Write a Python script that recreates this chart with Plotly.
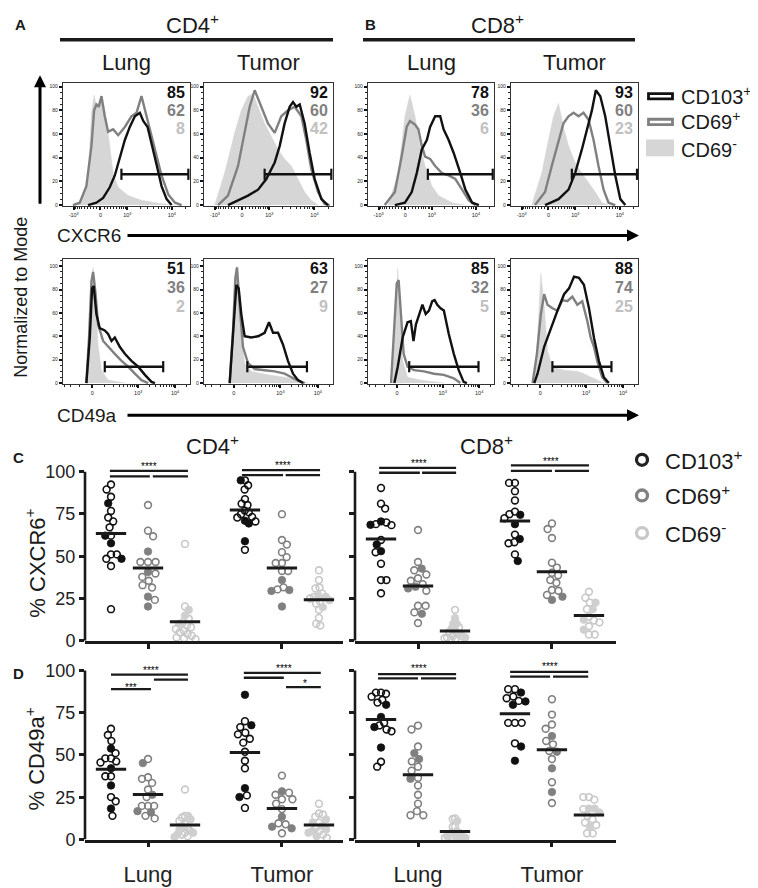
import math
import plotly.graph_objects as go

W, H = 758, 888
FONT = "Liberation Sans, Arial, Helvetica, sans-serif"
INK = "#1a1a1a"
C_CD103 = "#111111"
C_CD69P = "#808080"
C_CD69N = "#c8c8c8"
C_FILL = "#d6d6d6"

# ============================ DATA ============================
# Histograms: x = position across the plot (0-100 of the biexponential display),
# y = % of mode.  neg = CD69-, pos = CD69+, cd103 = CD103+
hist_cd4_lung_cxcr6_neg_x = [9.2, 14.5, 19.7, 22.4, 24.5, 26.3, 28.9, 31.6, 34.2, 36.8, 39.5, 43.4, 51.3, 61.8, 75.0, 88.0]
hist_cd4_lung_cxcr6_neg_y = [0, 2, 22, 78, 93, 83, 89, 86, 72, 50, 27, 15, 8, 4, 1.5, 0]
hist_cd4_lung_cxcr6_pos_x = [7.9, 13.2, 18.4, 22.4, 24.5, 26.3, 28.2, 30.3, 32.9, 35.5, 39.5, 43.4, 48.7, 53.9, 57.9, 61.8, 65.8, 69.7, 73.7, 77.6, 82.9, 88.2, 93.4]
hist_cd4_lung_cxcr6_pos_y = [0, 2, 16, 50, 80, 85, 83, 92, 75, 62, 64, 59, 66, 75, 78, 92, 75, 58, 41, 25, 9, 2, 0]
hist_cd4_lung_cxcr6_cd103_x = [19.7, 26.3, 31.6, 36.8, 40.8, 44.7, 48.7, 52.6, 56.6, 60.5, 63.2, 66.6, 69.7, 73.7, 77.6, 81.6, 85.5]
hist_cd4_lung_cxcr6_cd103_y = [0, 2, 6, 15, 25, 40, 55, 66, 75, 78, 71, 66, 53, 34, 16, 5, 0]

hist_cd4_tumor_cxcr6_neg_x = [8.3, 16.0, 23.8, 28.9, 34.1, 38.0, 41.9, 47.0, 52.2, 57.4, 62.5, 67.7, 72.9, 78.0, 83.2, 88.4]
hist_cd4_tumor_cxcr6_neg_y = [0, 27, 61, 80, 92, 94, 83, 69, 58, 47, 39, 33, 22, 11, 4, 0]
hist_cd4_tumor_cxcr6_pos_x = [10.9, 18.6, 26.4, 31.5, 35.4, 39.3, 44.4, 49.6, 54.8, 59.9, 65.1, 70.3, 75.5, 79.3, 83.2, 88.4, 93.5, 97.4]
hist_cd4_tumor_cxcr6_pos_y = [0, 8, 33, 61, 83, 97, 83, 69, 61, 75, 80, 83, 75, 55, 30, 11, 1, 0]
hist_cd4_tumor_cxcr6_cd103_x = [18.6, 26.4, 34.1, 41.9, 48.3, 54.8, 58.7, 62.5, 66.4, 69.0, 71.6, 74.2, 78.0, 81.9, 85.8, 91.0, 96.1]
hist_cd4_tumor_cxcr6_cd103_y = [0, 4, 8, 13, 22, 36, 50, 69, 83, 87, 83, 85, 69, 44, 22, 5, 0]

hist_cd8_lung_cxcr6_neg_x = [16.0, 24.0, 29.3, 33.3, 37.3, 41.3, 45.3, 50.7, 56.0, 66.7, 77.3]
hist_cd8_lung_cxcr6_neg_y = [0, 27, 75, 93, 75, 50, 33, 16, 8, 2, 0]
hist_cd8_lung_cxcr6_pos_x = [13.3, 21.3, 26.7, 30.7, 33.3, 37.3, 40.0, 42.7, 45.3, 49.3, 53.3, 58.7, 64.0, 69.3, 74.7, 80.0, 85.3]
hist_cd8_lung_cxcr6_pos_y = [0, 11, 41, 66, 71, 68, 64, 50, 41, 39, 33, 27, 25, 22, 13, 4, 0]
hist_cd8_lung_cxcr6_cd103_x = [21.3, 29.3, 34.7, 38.7, 42.7, 46.7, 49.3, 53.3, 57.3, 60.0, 64.0, 68.0, 73.3, 77.3, 82.7, 88.0]
hist_cd8_lung_cxcr6_cd103_y = [0, 2, 11, 27, 47, 55, 66, 75, 75, 64, 55, 44, 27, 13, 2, 0]

hist_cd8_tumor_cxcr6_neg_x = [16.3, 24.2, 29.5, 33.4, 37.4, 41.3, 45.3, 50.5, 55.8, 61.1, 66.3, 71.6, 76.8]
hist_cd8_tumor_cxcr6_neg_y = [0, 27, 55, 75, 86, 66, 50, 36, 27, 19, 11, 2, 0]
hist_cd8_tumor_cxcr6_pos_x = [18.9, 26.8, 32.1, 37.4, 41.3, 45.3, 49.2, 53.2, 57.1, 61.1, 65.0, 68.9, 72.9, 76.8, 82.1]
hist_cd8_tumor_cxcr6_pos_y = [0, 11, 33, 55, 69, 75, 78, 75, 78, 72, 55, 33, 13, 2, 0]
hist_cd8_tumor_cxcr6_cd103_x = [26.8, 37.4, 45.3, 50.5, 55.8, 59.7, 63.7, 66.8, 70.3, 74.2, 78.2, 82.1, 86.1, 90.0]
hist_cd8_tumor_cxcr6_cd103_y = [0, 5, 13, 27, 47, 64, 80, 97, 92, 75, 50, 25, 5, 0]

hist_cd4_lung_cd49a_neg_x = [18.4, 19.7, 21.8, 23.7, 25.5, 27.6, 30.3, 35.5, 48.7]
hist_cd4_lung_cd49a_neg_y = [0, 25, 81, 99, 73, 33, 11, 2.5, 0]
hist_cd4_lung_cd49a_pos_x = [18.4, 20.5, 22.4, 23.7, 25.5, 27.6, 31.6, 35.5, 40.8, 46.1, 51.3, 56.6, 61.8, 67.1]
hist_cd4_lung_cd49a_pos_y = [0, 39, 87, 95, 78, 50, 36, 31, 25, 19, 14, 8, 2.5, 0]
hist_cd4_lung_cd49a_cd103_x = [18.4, 21.1, 22.9, 24.2, 26.3, 28.9, 32.9, 35.5, 38.2, 40.8, 44.7, 48.7, 53.9, 59.2, 64.5, 69.7, 72.4]
hist_cd4_lung_cd49a_cd103_y = [0, 39, 81, 83, 59, 47, 45, 42, 36, 39, 31, 25, 19, 14, 7, 1, 0]

hist_cd4_tumor_cd49a_neg_x = [19.9, 22.5, 23.8, 25.1, 26.9, 28.9, 31.5, 36.7, 49.6, 62.5, 72.9, 80.6]
hist_cd4_tumor_cd49a_neg_y = [0, 39, 81, 100, 81, 39, 17, 10, 7, 5, 2.5, 0]
hist_cd4_tumor_cd49a_pos_x = [19.9, 22.5, 24.3, 25.6, 27.6, 30.2, 34.1, 39.3, 47.0, 54.8, 62.5, 67.7, 72.9, 78.0]
hist_cd4_tumor_cd49a_pos_y = [0, 45, 90, 99, 67, 31, 17, 12, 11, 10, 8, 5, 2, 0]
hist_cd4_tumor_cd49a_cd103_x = [19.9, 22.5, 25.1, 26.9, 28.9, 31.5, 36.7, 41.9, 47.0, 50.4, 53.5, 57.4, 61.2, 65.1, 69.0, 72.9, 76.7]
hist_cd4_tumor_cd49a_cd103_y = [0, 39, 84, 81, 59, 40, 39, 40, 43, 52, 43, 43, 33, 19, 8, 2.5, 0]

hist_cd8_lung_cd49a_neg_x = [19.6, 21.5, 23.6, 25.7, 27.5, 31.4, 41.9, 60.2]
hist_cd8_lung_cd49a_neg_y = [0, 53, 98, 53, 19, 5, 2.5, 0]
hist_cd8_lung_cd49a_pos_x = [18.3, 20.9, 22.8, 24.3, 26.2, 28.3, 31.4, 36.6, 44.5, 52.4, 60.2, 68.1, 73.3]
hist_cd8_lung_cd49a_pos_y = [0, 45, 85, 88, 59, 25, 14, 11, 10, 8, 7, 4, 0]
hist_cd8_lung_cd49a_cd103_x = [20.9, 23.6, 27.5, 31.4, 34.0, 36.1, 38.0, 40.6, 43.2, 45.8, 48.4, 51.0, 52.9, 55.0, 57.6, 60.2, 64.1, 68.1, 72.0, 75.9, 78.5]
hist_cd8_lung_cd49a_cd103_y = [0, 14, 39, 52, 53, 36, 50, 59, 67, 59, 62, 70, 71, 67, 64, 62, 42, 25, 11, 1, 0]

hist_cd8_tumor_cd49a_neg_x = [18.3, 20.9, 23.5, 26.1, 28.7, 32.6, 41.8, 52.2, 57.4, 65.3, 73.1]
hist_cd8_tumor_cd49a_neg_y = [0, 39, 94, 67, 28, 14, 11, 10, 8, 4, 0]
hist_cd8_tumor_cd49a_pos_x = [17.0, 20.4, 23.5, 26.1, 28.7, 32.6, 36.6, 40.5, 44.4, 48.3, 52.2, 56.1, 60.1, 62.7, 65.3, 67.9, 71.8, 75.7]
hist_cd8_tumor_cd49a_pos_y = [0, 25, 59, 76, 67, 64, 62, 71, 70, 74, 67, 70, 53, 39, 31, 19, 5, 0]
hist_cd8_tumor_cd49a_cd103_x = [18.3, 20.9, 26.1, 31.3, 36.6, 41.8, 45.7, 49.6, 53.5, 57.4, 61.4, 65.3, 69.2, 73.1, 77.0]
hist_cd8_tumor_cd49a_cd103_y = [0, 8, 31, 47, 62, 76, 81, 91, 90, 84, 64, 39, 19, 5, 0]

# Gates (order: CD4 lung, CD4 tumor, CD8 lung, CD8 tumor for CXCR6, then same for CD49a)
gate_start = [46.0, 47.0, 47.5, 47.9, 32.9, 33.6, 32.7, 32.6]
gate_end = [98.7, 98.7, 99.0, 99.2, 78.9, 79.8, 87.7, 79.1]
gate_level = [26, 26, 26, 26, 14, 14, 14, 14]
gate_pct_cd103 = [85, 92, 78, 93, 51, 63, 85, 88]
gate_pct_cd69pos = [62, 60, 36, 60, 36, 27, 32, 74]
gate_pct_cd69neg = [8, 42, 6, 23, 2, 9, 5, 25]

# ---- Panel C: % CXCR6+ ----
c_cd4_lung_cd103_open = [92.4, 89.5, 85.2, 76.8, 72.9, 70.6, 67.1, 62.2, 51.1, 51.1, 48.5, 44.2, 18.7]
c_cd4_lung_cd103_filled = [81.3, 62.2, 57.7, 48.5]
c_cd4_lung_cd69pos_open = [80.3, 65.1, 61.8, 46.6, 46.6, 46.6, 39.8, 37.8, 35.5, 32.9, 31.5, 24.2]
c_cd4_lung_cd69pos_filled = [52.8, 40.7, 26.1, 20.3]
c_cd4_lung_cd69neg_open = [57.3, 20.3, 13, 11, 9, 8, 7, 6, 5, 4, 3, 2, 1.5, 1]
c_cd4_lung_cd69neg_filled = [18.3, 15, 10]
c_cd4_tumor_cd103_open = [94.9, 92.0, 89.5, 83.8, 81.1, 80.3, 77, 76, 74.9, 73.3, 72.9, 70.6, 53.8]
c_cd4_tumor_cd103_filled = [94.9, 71.0, 69.4, 58.9]
c_cd4_tumor_cd69pos_open = [74.9, 59.6, 56.9, 52.4, 49.5, 46.0, 46.0, 41.3, 41.3, 31.6, 30.4]
c_cd4_tumor_cd69pos_filled = [35.9, 30.0, 29.5, 20.3]
c_cd4_tumor_cd69neg_open = [41.7, 35.9, 31.5, 31.0, 28, 26, 25, 23.2, 22, 18.3, 13.5, 10.1, 9.0]
c_cd4_tumor_cd69neg_filled = [27.1, 26, 24, 19.9]

c_cd8_lung_cd103_open = [90.4, 81.1, 78.2, 70.0, 69.0, 68.4, 59.6, 52.4, 45.6, 35.9, 35.9, 28.1]
c_cd8_lung_cd103_filled = [70.6, 68.6, 56.9, 53.0]
c_cd8_lung_cd69pos_open = [65.5, 46.6, 41.7, 39.2, 37.0, 35.5, 33.5, 29.6, 20.7, 20.7, 16.8, 10.5]
c_cd8_lung_cd69pos_filled = [42.7, 32.0, 31.0, 16.0]
c_cd8_lung_cd69neg_open = [18.3, 8, 6, 5, 4, 3, 2.5, 2, 1.5, 1, 0.5]
c_cd8_lung_cd69neg_filled = [13.5, 10.1, 10.1, 7, 4, 2]
c_cd8_tumor_cd103_open = [93.4, 93.4, 88.5, 83.0, 76.4, 74.9, 72.5, 62.8, 58.3, 57.7, 51.1]
c_cd8_tumor_cd103_filled = [74.5, 69.0, 60.2, 47.2]
c_cd8_tumor_cd69pos_open = [69.4, 66.1, 60.8, 46.2, 43.3, 40.2, 38.8, 35.9, 34.3, 30.0, 29.6, 27.1]
c_cd8_tumor_cd69pos_filled = [26.1, 24.2]
c_cd8_tumor_cd69neg_open = [29.0, 25.5, 22.6, 18.7, 14.4, 12, 10.9, 8.6, 3.7, 3.7]
c_cd8_tumor_cd69neg_filled = [22.6, 18.7, 12.5, 6.6]

# ---- Panel D: % CD49a+ ----
d_cd4_lung_cd103_open = [65.5, 61.8, 58.3, 51.1, 48.0, 48.0, 46.2, 45.6, 37.4, 37.4, 25.1, 22.6, 14.0]
d_cd4_lung_cd103_filled = [53.8, 42.1, 32.0, 18.3]
d_cd4_lung_cd69pos_open = [47.6, 36.8, 35.9, 33.5, 29.6, 25.1, 19.9, 19.9, 19.9, 14, 12.5]
d_cd4_lung_cd69pos_filled = [45.2, 26.5, 16.8, 16.0]
d_cd4_lung_cd69neg_open = [29.6, 14, 13, 11, 9, 7, 5, 4, 3, 2]
d_cd4_lung_cd69neg_filled = [14, 12, 8, 6, 4, 3, 1.5]
d_cd4_tumor_cd103_open = [70.0, 66.5, 63.2, 62.2, 59.6, 57.3, 51.9, 46.6, 42.1, 26.1, 18.7]
d_cd4_tumor_cd103_filled = [85.6, 67.6, 30.4, 25.1]
d_cd4_tumor_cd69pos_open = [37.8, 27.7, 26.5, 23.8, 23.8, 21.2, 18, 9.0, 9.6, 3.7]
d_cd4_tumor_cd69pos_filled = [28.5, 13.5, 7.6, 6.6]
d_cd4_tumor_cd69neg_open = [21.2, 15.4, 14.8, 13.5, 10, 7, 5, 3, 1]
d_cd4_tumor_cd69neg_filled = [12, 10, 8, 6, 5, 4, 2]

d_cd8_lung_cd103_open = [86.9, 86.9, 86.2, 84.5, 82.6, 81.0, 69.0, 67.5, 65.1, 64.0, 46.0, 43.1]
d_cd8_lung_cd103_filled = [79.7, 72.5, 66.5, 54.4]
d_cd8_lung_cd69pos_open = [67.4, 65.1, 55.0, 46.2, 43.1, 40.7, 36.5, 32.0, 26.5, 21.2, 16.8, 14.4, 14.4]
d_cd8_lung_cd69pos_filled = [51.1, 47.6, 35.9]
d_cd8_lung_cd69neg_open = [12.5, 12.1, 7.6, 7.6, 4, 2, 2, 1]
d_cd8_lung_cd69neg_filled = [11, 5, 4, 3, 2, 1.5, 1, 0.5]
d_cd8_tumor_cd103_open = [88.9, 88.9, 84.6, 83.6, 82.0, 69.0, 69.0, 69.0, 56.9]
d_cd8_tumor_cd103_filled = [86.9, 81.7, 79.7, 55.0, 46.6]
d_cd8_tumor_cd69pos_open = [83.0, 73.9, 68.0, 65.5, 58.3, 56.3, 52.4, 47.6, 33.9, 21.6]
d_cd8_tumor_cd69pos_filled = [61.2, 51.9, 42.1, 28.1]
d_cd8_tumor_cd69neg_open = [25.1, 25.1, 23.6, 18, 14, 12, 10, 8.6, 3.7, 3.7]
d_cd8_tumor_cd69neg_filled = [18.3, 18.3, 16, 7.6]

tissue_labels = ["Lung", "Tumor"]
y_ticks = [0, 25, 50, 75, 100]

# ============================ HELPERS ============================
def sfx(i):
    return "" if i == 1 else str(i)

def px(x):
    return x / W

def py(y):
    return 1 - y / H

fig = go.Figure()
layout = {}
annotations = []
shapes = []

def txt(x, y, text, size, xanchor="center", bold=False, color=INK, angle=0, yanchor="middle"):
    if bold:
        text = "<b>" + text + "</b>"
    annotations.append(dict(x=px(x), y=py(y), xref="paper", yref="paper", text=text,
                            showarrow=False, xanchor=xanchor, yanchor=yanchor, textangle=angle,
                            font=dict(family=FONT, size=size, color=color)))

def line_px(x0, y0, x1, y1, width, color=INK):
    shapes.append(dict(type="line", xref="paper", yref="paper", x0=px(x0), y0=py(y0),
                       x1=px(x1), y1=py(y1), line=dict(color=color, width=width)))

# ============================ HISTOGRAMS ============================
hist_curves = [
    (hist_cd4_lung_cxcr6_neg_x, hist_cd4_lung_cxcr6_neg_y, hist_cd4_lung_cxcr6_pos_x, hist_cd4_lung_cxcr6_pos_y, hist_cd4_lung_cxcr6_cd103_x, hist_cd4_lung_cxcr6_cd103_y),
    (hist_cd4_tumor_cxcr6_neg_x, hist_cd4_tumor_cxcr6_neg_y, hist_cd4_tumor_cxcr6_pos_x, hist_cd4_tumor_cxcr6_pos_y, hist_cd4_tumor_cxcr6_cd103_x, hist_cd4_tumor_cxcr6_cd103_y),
    (hist_cd8_lung_cxcr6_neg_x, hist_cd8_lung_cxcr6_neg_y, hist_cd8_lung_cxcr6_pos_x, hist_cd8_lung_cxcr6_pos_y, hist_cd8_lung_cxcr6_cd103_x, hist_cd8_lung_cxcr6_cd103_y),
    (hist_cd8_tumor_cxcr6_neg_x, hist_cd8_tumor_cxcr6_neg_y, hist_cd8_tumor_cxcr6_pos_x, hist_cd8_tumor_cxcr6_pos_y, hist_cd8_tumor_cxcr6_cd103_x, hist_cd8_tumor_cxcr6_cd103_y),
    (hist_cd4_lung_cd49a_neg_x, hist_cd4_lung_cd49a_neg_y, hist_cd4_lung_cd49a_pos_x, hist_cd4_lung_cd49a_pos_y, hist_cd4_lung_cd49a_cd103_x, hist_cd4_lung_cd49a_cd103_y),
    (hist_cd4_tumor_cd49a_neg_x, hist_cd4_tumor_cd49a_neg_y, hist_cd4_tumor_cd49a_pos_x, hist_cd4_tumor_cd49a_pos_y, hist_cd4_tumor_cd49a_cd103_x, hist_cd4_tumor_cd49a_cd103_y),
    (hist_cd8_lung_cd49a_neg_x, hist_cd8_lung_cd49a_neg_y, hist_cd8_lung_cd49a_pos_x, hist_cd8_lung_cd49a_pos_y, hist_cd8_lung_cd49a_cd103_x, hist_cd8_lung_cd49a_cd103_y),
    (hist_cd8_tumor_cd49a_neg_x, hist_cd8_tumor_cd49a_neg_y, hist_cd8_tumor_cd49a_pos_x, hist_cd8_tumor_cd49a_pos_y, hist_cd8_tumor_cd49a_cd103_x, hist_cd8_tumor_cd49a_cd103_y),
]

hist_cols_px = [(55, 182), (196, 325), (360, 486), (503, 630)]
hist_rows_px = [(76, 200.5, 103), (254, 380.5, 106)]
num_y = [(94.7, 79.6, 64.6), (98.4, 81.5, 65.4)]

def biex_row1(v):
    return 29.5 + 15.7 * math.asinh(v / 560.0)

def biex_row2(v):
    return 23.0 + 12.6 * math.asinh(v / 113.0)

minor_vals = [s * k * 100 for s in (-1, 1) for k in range(1, 10)] + \
             [s * k * 1000 for s in (-1, 1) for k in range(2, 10)] + [20000, 30000]

row_ticks = [
    ([biex_row1(v) for v in (-1000, 0, 1000, 10000)],
     ["-10<sup>3</sup>", "0", "10<sup>3</sup>", "10<sup>4</sup>"],
     [m for m in (biex_row1(v) for v in minor_vals) if 0 < m < 100]),
    ([biex_row2(v) for v in (0, 1000, 10000)],
     ["0", "10<sup>3</sup>", "10<sup>4</sup>"],
     [m for m in (biex_row2(v) for v in minor_vals) if 0 < m < 100]),
]

for r in range(2):
    top, bot, ymax = hist_rows_px[r]
    tv, tt, mv = row_ticks[r]
    for c in range(4):
        i = r * 4 + c + 1
        s = sfx(i)
        x0, x1 = hist_cols_px[c]
        nx, ny, ppx, ppy, bx, by = hist_curves[i - 1]
        layout["xaxis" + s] = dict(
            domain=[px(x0), px(x1)], range=[0, 100], anchor="y" + s,
            showline=True, mirror=True, linecolor="#333", linewidth=1.2,
            ticks="outside", ticklen=3, tickwidth=1.6, tickcolor="#111",
            tickmode="array", tickvals=tv, ticktext=tt,
            tickfont=dict(family=FONT, size=5.5, color="#222"),
            minor=dict(tickmode="array", tickvals=mv, ticks="outside", ticklen=2, tickwidth=1, tickcolor="#222"),
            showgrid=False, zeroline=False, fixedrange=True)
        layout["yaxis" + s] = dict(
            domain=[py(bot), py(top)], range=[-1, ymax], anchor="x" + s,
            showline=True, mirror=True, linecolor="#333", linewidth=1.2,
            ticks="outside", ticklen=3, tickwidth=1.6, tickcolor="#111",
            tickmode="array", tickvals=[0, 20, 40, 60, 80, 100],
            tickfont=dict(family=FONT, size=5, color="#222"),
            minor=dict(tickmode="linear", tick0=0, dtick=5, ticks="outside", ticklen=1.5, tickwidth=1, tickcolor="#222"),
            showgrid=False, zeroline=False, fixedrange=True)
        xa, ya = "x" + s, "y" + s
        fig.add_trace(go.Scatter(x=nx, y=ny, mode="lines", fill="tozeroy", fillcolor=C_FILL,
                                 line=dict(color=C_FILL, width=0.5), xaxis=xa, yaxis=ya, hoverinfo="skip"))
        fig.add_trace(go.Scatter(x=ppx, y=ppy, mode="lines", line=dict(color=C_CD69P, width=2.4),
                                 xaxis=xa, yaxis=ya, hoverinfo="skip"))
        fig.add_trace(go.Scatter(x=bx, y=by, mode="lines", line=dict(color=C_CD103, width=2.4),
                                 xaxis=xa, yaxis=ya, hoverinfo="skip"))
        gy = gate_level[i - 1]
        fig.add_trace(go.Scatter(x=[gate_start[i - 1], gate_end[i - 1]], y=[gy, gy], mode="lines+markers",
                                 line=dict(color=C_CD103, width=2.4),
                                 marker=dict(symbol="line-ns-open", size=8, line=dict(color=C_CD103, width=2.2)),
                                 xaxis=xa, yaxis=ya, hoverinfo="skip", cliponaxis=False))
        for val, col, yy in ((gate_pct_cd103[i - 1], C_CD103, num_y[r][0]),
                             (gate_pct_cd69pos[i - 1], C_CD69P, num_y[r][1]),
                             (gate_pct_cd69neg[i - 1], "#c0c0c0", num_y[r][2])):
            annotations.append(dict(x=0.975, y=yy, xref=xa + " domain", yref=ya, text="<b>%d</b>" % val,
                                    showarrow=False, xanchor="right", yanchor="middle",
                                    font=dict(family=FONT, size=16, color=col)))

# ============================ SCATTER PANELS ============================
scatter_panels = [
    (9, (77, 335), 640, True, False, [
        (c_cd4_lung_cd103_open, c_cd4_lung_cd103_filled), (c_cd4_lung_cd69pos_open, c_cd4_lung_cd69pos_filled),
        (c_cd4_lung_cd69neg_open, c_cd4_lung_cd69neg_filled), (c_cd4_tumor_cd103_open, c_cd4_tumor_cd103_filled),
        (c_cd4_tumor_cd69pos_open, c_cd4_tumor_cd69pos_filled), (c_cd4_tumor_cd69neg_open, c_cd4_tumor_cd69neg_filled)]),
    (10, (347, 608), 640, False, False, [
        (c_cd8_lung_cd103_open, c_cd8_lung_cd103_filled), (c_cd8_lung_cd69pos_open, c_cd8_lung_cd69pos_filled),
        (c_cd8_lung_cd69neg_open, c_cd8_lung_cd69neg_filled), (c_cd8_tumor_cd103_open, c_cd8_tumor_cd103_filled),
        (c_cd8_tumor_cd69pos_open, c_cd8_tumor_cd69pos_filled), (c_cd8_tumor_cd69neg_open, c_cd8_tumor_cd69neg_filled)]),
    (11, (77, 335), 841, True, True, [
        (d_cd4_lung_cd103_open, d_cd4_lung_cd103_filled), (d_cd4_lung_cd69pos_open, d_cd4_lung_cd69pos_filled),
        (d_cd4_lung_cd69neg_open, d_cd4_lung_cd69neg_filled), (d_cd4_tumor_cd103_open, d_cd4_tumor_cd103_filled),
        (d_cd4_tumor_cd69pos_open, d_cd4_tumor_cd69pos_filled), (d_cd4_tumor_cd69neg_open, d_cd4_tumor_cd69neg_filled)]),
    (12, (347, 608), 841, False, True, [
        (d_cd8_lung_cd103_open, d_cd8_lung_cd103_filled), (d_cd8_lung_cd69pos_open, d_cd8_lung_cd69pos_filled),
        (d_cd8_lung_cd69neg_open, d_cd8_lung_cd69neg_filled), (d_cd8_tumor_cd103_open, d_cd8_tumor_cd103_filled),
        (d_cd8_tumor_cd69pos_open, d_cd8_tumor_cd69pos_filled), (d_cd8_tumor_cd69neg_open, d_cd8_tumor_cd69neg_filled)]),
]
group_pos = [1, 2, 3, 4.62, 5.62, 6.62]
group_col = [C_CD103, C_CD69P, C_CD69N, C_CD103, C_CD69P, C_CD69N]
group_fill = [C_CD103, C_CD69P, "#cfcfcf", C_CD103, C_CD69P, "#cfcfcf"]
UNIT_PX = 37.0
X_LEFT = 1 - 26 / UNIT_PX
Y_MAX = 110
PX_PER_PCT = 1.71
MAX_SPREAD = 10.5

def swarm_px(values, diam, sy):
    order = sorted(range(len(values)), key=lambda k: -values[k])
    placed = []
    offs = [0.0] * len(values)
    for n, k in enumerate(order):
        yk = values[k] * sy
        cands = [0.0]
        for (qx, qy) in placed:
            dy = abs(qy - yk)
            if dy < diam:
                dx = math.sqrt(diam * diam - dy * dy)
                cands.extend([qx + dx, qx - dx])
        sign = 1 if n % 2 else -1
        cands.sort(key=lambda c: (round(abs(c), 4), sign * c))
        chosen = 0.0
        for cnd in cands:
            if all((cnd - qx) ** 2 + (yk - qy) ** 2 >= diam * diam - 1e-6 for qx, qy in placed):
                chosen = cnd
                break
        placed.append((chosen, yk))
        offs[k] = chosen
    widest = max(abs(o) for o in offs) if offs else 0
    if widest > MAX_SPREAD:
        offs = [o * MAX_SPREAD / widest for o in offs]
    return offs

for idx, xr, ybot, ylab, xlab, groups in scatter_panels:
    s = sfx(idx)
    xa, ya = "x" + s, "y" + s
    x_right = X_LEFT + (xr[1] - xr[0]) / UNIT_PX
    ytop = ybot - Y_MAX * PX_PER_PCT
    layout["xaxis" + s] = dict(
        domain=[px(xr[0]), px(xr[1])], range=[X_LEFT, x_right], anchor=ya,
        showline=True, linecolor=INK, linewidth=2.6, ticks="outside", ticklen=5, tickwidth=2.6,
        tickcolor=INK, tickmode="array", tickvals=[2, 5.62],
        ticktext=tissue_labels if xlab else [" ", " "], ticklabelstandoff=8,
        tickfont=dict(family=FONT, size=22, color="#222"),
        showgrid=False, zeroline=False, fixedrange=True)
    layout["yaxis" + s] = dict(
        domain=[py(ybot), py(ytop)], range=[0, Y_MAX], anchor=xa,
        showline=False, ticks="outside", ticklen=5, tickwidth=2.6, tickcolor=INK,
        tickmode="array", tickvals=y_ticks, showticklabels=ylab,
        tickfont=dict(family=FONT, size=18, color="#222"),
        showgrid=False, zeroline=False, fixedrange=True)
    shapes.append(dict(type="line", xref=xa + " domain", yref=ya, x0=0, x1=0, y0=0, y1=100,
                       line=dict(color=INK, width=2.6)))
    for g, (opn, fil) in enumerate(groups):
        vals = list(opn) + list(fil)
        offs = swarm_px(vals, 7.6, PX_PER_PCT)
        xs = [group_pos[g] + o / UNIT_PX for o in offs]
        no = len(opn)
        fig.add_trace(go.Scatter(x=xs[:no], y=vals[:no], mode="markers", xaxis=xa, yaxis=ya,
                                 marker=dict(symbol="circle-open", size=6.8, color=group_col[g],
                                             line=dict(width=1.6, color=group_col[g])),
                                 cliponaxis=False, hoverinfo="skip"))
        fig.add_trace(go.Scatter(x=xs[no:], y=vals[no:], mode="markers", xaxis=xa, yaxis=ya,
                                 marker=dict(symbol="circle", size=7.5, color=group_fill[g],
                                             line=dict(width=0.8, color=group_fill[g])),
                                 cliponaxis=False, hoverinfo="skip"))
        mean = sum(vals) / len(vals)
        shapes.append(dict(type="line", xref=xa, yref=ya, x0=group_pos[g] - 0.41, x1=group_pos[g] + 0.41,
                           y0=mean, y1=mean, line=dict(color=INK, width=3)))

# significance bars (x0, x1, y) and labels (x, y, text) per scatter panel
sig_lines = {
    9: [(0.97, 3.08, 100.5), (0.97, 2.05, 97.3), (2.13, 3.08, 97.3),
        (4.54, 6.65, 101.0), (4.54, 5.65, 98.0), (5.72, 6.65, 98.0)],
    10: [(0.95, 3.03, 102.3), (0.95, 2.05, 99.4), (2.11, 3.03, 99.4),
         (4.51, 6.62, 103.7), (4.51, 5.62, 100.5), (5.70, 6.62, 100.5)],
    11: [(1.0, 3.08, 97.5), (2.16, 3.08, 94.6), (1.0, 2.08, 88.9),
         (4.59, 6.67, 98.6), (4.59, 5.67, 95.7), (5.73, 6.67, 90.2)],
    12: [(0.92, 3.03, 97.8), (0.92, 2.0, 95.3), (2.08, 3.03, 95.3),
         (4.49, 6.6, 99.2), (4.49, 5.57, 96.3), (5.65, 6.6, 96.3)],
}
sig_text = {
    9: [(2.03, 104.7, "****"), (5.65, 105.7, "****")],
    10: [(2.03, 106.4, "****"), (5.6, 107.6, "****")],
    11: [(2.08, 101.8, "****"), (1.54, 91.8, "***"), (5.67, 102.9, "****"), (6.24, 93.8, "*")],
    12: [(2.03, 102.9, "****"), (5.57, 104.3, "****")],
}
for idx, lst in sig_lines.items():
    s = sfx(idx)
    for (a, b, yv) in lst:
        shapes.append(dict(type="line", xref="x" + s, yref="y" + s, x0=a, x1=b, y0=yv, y1=yv,
                           line=dict(color=INK, width=2.3)))
    for (xv, yv, t) in sig_text[idx]:
        annotations.append(dict(x=xv, y=yv, xref="x" + s, yref="y" + s, text=t, showarrow=False,
                                xanchor="center", yanchor="middle", yshift=-3,
                                font=dict(family=FONT, size=10, color="#000000")))

# ============================ TEXT & DECORATION ============================
txt(12.5, 17, "A", 15, bold=True)
txt(362, 17, "B", 15, bold=True)
txt(184, 16, "CD4<sup>+</sup>", 22)
txt(489, 16, "CD8<sup>+</sup>", 22)
line_px(52, 32, 325, 32, 3.5)
line_px(355, 32, 627, 32, 3.5)
for (c0, c1), lab in zip(hist_cols_px, ["Lung", "Tumor", "Lung", "Tumor"]):
    txt((c0 + c1) / 2, 55, lab, 22)

txt(13, 293, "Normalized to Mode", 18, angle=-90)
txt(47, 230, "CXCR6", 19, xanchor="left")
txt(47, 412, "CD49a", 19, xanchor="left")

def arrow(hx, hy, ax, ay):
    annotations.append(dict(x=px(hx), y=py(hy), xref="paper", yref="paper", ax=ax, ay=ay,
                            text="", showarrow=True, arrowhead=2, arrowsize=0.8, arrowwidth=3,
                            arrowcolor="#000"))

arrow(32, 68, 0, 130)
arrow(631, 230, -513, 0)
arrow(631, 412, -513, 0)

# histogram legend
shapes.append(dict(type="rect", xref="paper", yref="paper", x0=px(640.5), x1=px(664.5), y0=py(92), y1=py(86.5),
                   line=dict(color=C_CD103, width=2.8), fillcolor="white"))
shapes.append(dict(type="rect", xref="paper", yref="paper", x0=px(640.5), x1=px(664.5), y0=py(118), y1=py(112.5),
                   line=dict(color=C_CD69P, width=2.8), fillcolor="white"))
shapes.append(dict(type="rect", xref="paper", yref="paper", x0=px(638), x1=px(666), y0=py(150), y1=py(133),
                   line=dict(width=0), fillcolor=C_FILL))
txt(671, 89, "CD103<sup>+</sup>", 20, xanchor="left")
txt(671, 114, "CD69<sup>+</sup>", 20, xanchor="left")
txt(671, 142, "CD69<sup>-</sup>", 20, xanchor="left")

# section C / D labels
txt(10, 455, "C", 15, bold=True)
txt(10, 673, "D", 15, bold=True)
txt(204, 442, "CD4<sup>+</sup>", 22)
txt(478, 442, "CD8<sup>+</sup>", 22)
txt(27, 562, "% CXCR6<sup>+</sup>", 22, angle=-90)
txt(27, 760, "% CD49a<sup>+</sup>", 22, angle=-90)

# scatter legend
for yy, col, lab in ((457, "#222222", "CD103<sup>+</sup>"), (493, C_CD69P, "CD69<sup>+</sup>"),
                     (531, C_CD69N, "CD69<sup>-</sup>")):
    shapes.append(dict(type="circle", xref="paper", yref="paper", x0=px(628.5), x1=px(639.5),
                       y0=py(yy + 5.5), y1=py(yy - 5.5), line=dict(color=col, width=3.3)))
    txt(655, yy, lab, 22, xanchor="left")

layout.update(dict(
    width=W, height=H, margin=dict(l=0, r=0, t=0, b=0),
    paper_bgcolor="white", plot_bgcolor="rgba(0,0,0,0)", showlegend=False,
    font=dict(family=FONT, color=INK), annotations=annotations, shapes=shapes,
))
fig.update_layout(**layout)
fig.write_html("out.html")
